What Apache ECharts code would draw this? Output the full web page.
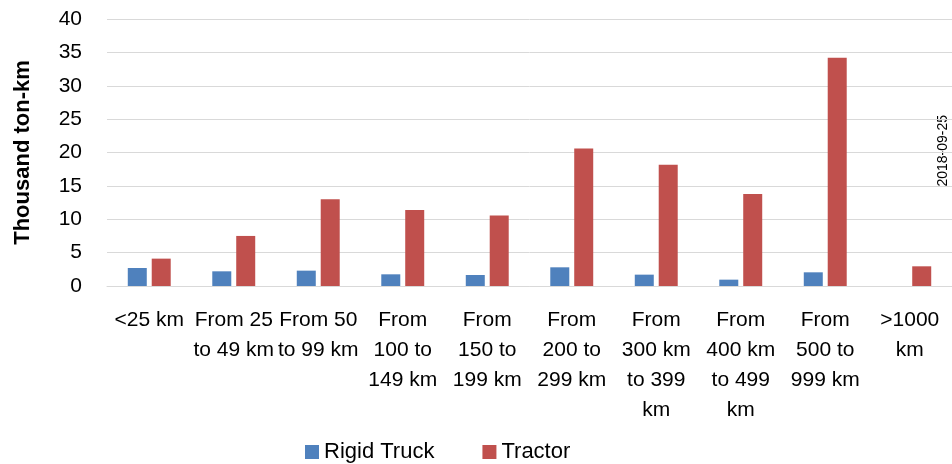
<!DOCTYPE html>
<html>
<head>
<meta charset="utf-8">
<style>
  html, body { margin: 0; padding: 0; background: #fff; }
  #chart { width: 952px; height: 464px; }
</style>
<script src="https://cdn.jsdelivr.net/npm/echarts@6/dist/echarts.min.js"></script>
</head>
<body>
<div id="chart"></div>
<script>
// 距离区间（x 轴标签，按原图换行）
var categories = [
  "<25 km",
  "From 25\nto 49 km",
  "From 50\nto 99 km",
  "From\n100 to\n149 km",
  "From\n150 to\n199 km",
  "From\n200 to\n299 km",
  "From\n300 km\nto 399\nkm",
  "From\n400 km\nto 499\nkm",
  "From\n500 to\n999 km",
  ">1000\nkm"
];
var rigidTruck = [2.7, 2.2, 2.3, 1.75, 1.65, 2.8, 1.7, 0.95, 2.05, 0];
var tractor = [4.1, 7.5, 13.0, 11.4, 10.55, 20.6, 18.15, 13.8, 34.2, 2.95];
var yTicks = [0, 40, 5]; // min, max, interval
var dateNote = "2018-09-25";

var font = "'Liberation Sans', Arial, sans-serif";

var myChart = echarts.init(document.getElementById("chart"));
myChart.setOption({
  animation: false,
  textStyle: { fontFamily: font },
  color: ["#4F81BD", "#C0504D"],
  grid: {
    left: 107,
    top: 19,
    width: 850,
    height: 267
  },
  legend: {
    left: 300,
    top: 436,
    itemWidth: 14,
    itemHeight: 14,
    itemGap: 48,
    icon: "rect",
    textStyle: { fontFamily: font, fontSize: 22, color: "#000" },
    data: ["Rigid Truck", "Tractor"]
  },
  xAxis: {
    type: "category",
    data: categories,
    axisLine: { lineStyle: { color: "#D9D9D9", width: 1 } },
    axisTick: { show: false },
    axisLabel: {
      interval: 0,
      margin: 19,
      color: "#000",
      fontFamily: font,
      fontSize: 21,
      lineHeight: 30
    }
  },
  yAxis: {
    type: "value",
    min: yTicks[0],
    max: yTicks[1],
    interval: yTicks[2],
    name: "Thousand ton-km",
    nameLocation: "middle",
    nameRotate: 90,
    nameGap: 73,
    nameTextStyle: {
      fontFamily: font,
      fontSize: 22,
      fontWeight: "bold",
      color: "#000"
    },
    axisLine: { show: false },
    axisTick: { show: false },
    axisLabel: {
      margin: 25,
      color: "#000",
      fontFamily: font,
      fontSize: 21
    },
    splitLine: { lineStyle: { color: "#D9D9D9", width: 1 } }
  },
  series: [
    {
      name: "Rigid Truck",
      type: "bar",
      data: rigidTruck,
      barWidth: 19,
      barGap: "26%"
    },
    {
      name: "Tractor",
      type: "bar",
      data: tractor,
      barWidth: 19,
      barGap: "26%"
    }
  ],
  graphic: [
    {
      type: "text",
      left: 936,
      top: 112,
      rotation: Math.PI / 2,
      style: {
        text: dateNote,
        fontFamily: font,
        fontSize: 14,
        fill: "#000",
        backgroundColor: "#fff",
        padding: [0, 3]
      }
    }
  ]
});
</script>
</body>
</html>
